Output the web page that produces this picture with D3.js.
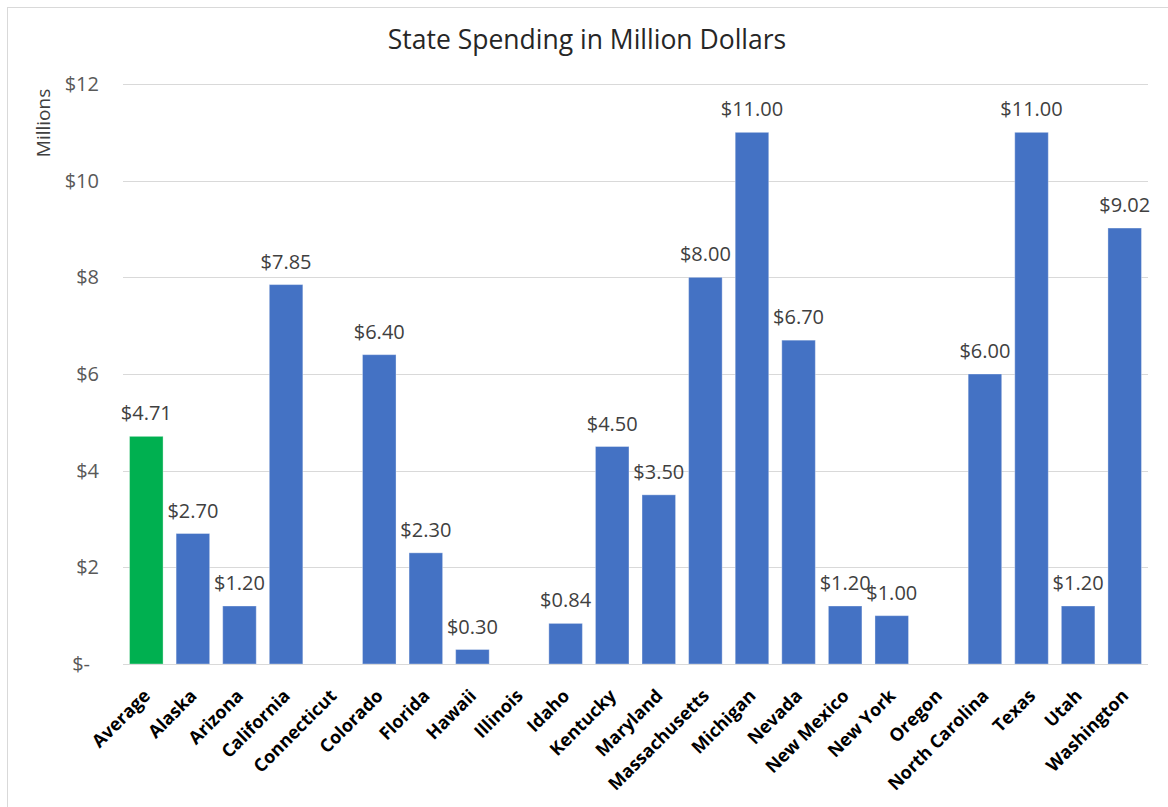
<!DOCTYPE html>
<html>
<head>
<meta charset="utf-8">
<script src="https://cdn.jsdelivr.net/npm/d3@7"></script>
<style>
  html, body { margin: 0; padding: 0; background: #fff; }
  svg { display: block; }
</style>
</head>
<body>
<svg id="chart" width="1168" height="807"></svg>
<script>
// Spending per state, in millions of dollars (null = no figure reported)
const states = ["Average", "Alaska", "Arizona", "California", "Connecticut", "Colorado",
  "Florida", "Hawaii", "Illinois", "Idaho", "Kentucky", "Maryland", "Massachusetts",
  "Michigan", "Nevada", "New Mexico", "New York", "Oregon", "North Carolina", "Texas",
  "Utah", "Washington"];
const spending = [4.71, 2.70, 1.20, 7.85, null, 6.40, 2.30, 0.30, null, 0.84, 4.50, 3.50,
  8.00, 11.00, 6.70, 1.20, 1.00, null, 6.00, 11.00, 1.20, 9.02];
const yTicks = [0, 2, 4, 6, 8, 10, 12];
const title = "State Spending in Million Dollars";
const yTitle = "Millions";

const svg = d3.select("#chart");
const font = "'Open Sans', 'Noto Sans', sans-serif";

// chart frame
svg.append("rect")
  .attr("x", 7.5).attr("y", 7.5)
  .attr("width", 1180).attr("height", 820)
  .attr("fill", "#fff").attr("stroke", "#d9d9d9").attr("stroke-width", 1);

const plot = { left: 123, right: 1148, top: 84, bottom: 664 };

const x = d3.scaleBand()
  .domain(states)
  .range([plot.left, plot.right])
  .paddingInner(0.28)
  .paddingOuter(0.14);

const y = d3.scaleLinear()
  .domain([0, 12])
  .range([plot.bottom, plot.top]);

// horizontal gridlines
svg.append("g")
  .selectAll("line")
  .data(yTicks)
  .join("line")
  .attr("x1", plot.left).attr("x2", plot.right)
  .attr("y1", d => Math.round(y(d)) + 0.5).attr("y2", d => Math.round(y(d)) + 0.5)
  .attr("stroke", "#d9d9d9").attr("stroke-width", 1);

// y axis labels
const yAxis = d3.axisLeft(y)
  .tickValues(yTicks)
  .tickSize(0)
  .tickPadding(0)
  .tickFormat(d => d === 0 ? "$-" : "$" + d);
const gy = svg.append("g")
  .attr("transform", `translate(${plot.left - 24},0)`)
  .call(yAxis);
gy.select(".domain").remove();
gy.selectAll("text")
  .attr("font-family", font)
  .attr("font-size", 20)
  .attr("fill", "#595959")
  .attr("dx", d => d === 0 ? -9 : 0);

// bars
const data = states.map((s, i) => ({ state: s, value: spending[i] }));
svg.append("g")
  .selectAll("rect")
  .data(data.filter(d => d.value !== null))
  .join("rect")
  .attr("x", d => x(d.state))
  .attr("y", d => y(d.value))
  .attr("width", x.bandwidth())
  .attr("height", d => y(0) - y(d.value))
  .attr("fill", d => d.state === "Average" ? "#00b050" : "#4472c4")
  .attr("stroke", "#ffffff")
  .attr("stroke-opacity", 0.35)
  .attr("stroke-width", 1);

// value labels
svg.append("g")
  .selectAll("text")
  .data(data.filter(d => d.value !== null))
  .join("text")
  .attr("x", d => x(d.state) + x.bandwidth() / 2)
  .attr("y", d => y(d.value) - 16)
  .attr("text-anchor", "middle")
  .attr("font-family", font)
  .attr("font-size", 20)
  .attr("fill", "#404040")
  .text(d => "$" + d3.format(".2f")(d.value));

// category axis
const xAxis = d3.axisBottom(x).tickSize(0).tickPadding(0);
const gx = svg.append("g")
  .attr("transform", `translate(0,${plot.bottom})`)
  .call(xAxis);
gx.select(".domain")
  .attr("stroke", "#d9d9d9")
  .attr("d", `M${plot.left},0.5H${plot.right}`);
gx.selectAll("text")
  .attr("font-family", font)
  .attr("font-size", 18)
  .attr("font-weight", "bold")
  .attr("fill", "#000")
  .attr("text-anchor", "end")
  .attr("dy", null)
  .attr("transform", "translate(5,33) rotate(-45)");

// y axis title
svg.append("text")
  .attr("transform", "translate(50,123) rotate(-90)")
  .attr("text-anchor", "middle")
  .attr("font-family", font)
  .attr("font-size", 19)
  .attr("fill", "#404040")
  .text(yTitle);

// chart title
svg.append("text")
  .attr("x", 587).attr("y", 49)
  .attr("text-anchor", "middle")
  .attr("font-family", font)
  .attr("font-size", 26.5)
  .attr("fill", "#262626")
  .text(title);
</script>
</body>
</html>
